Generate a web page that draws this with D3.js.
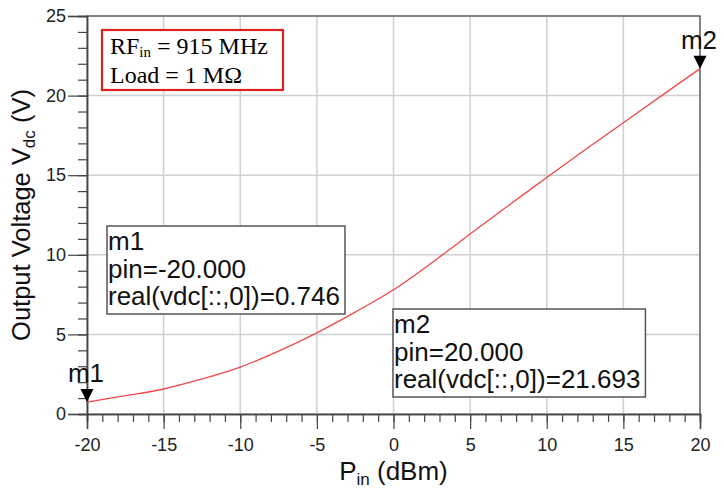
<!DOCTYPE html>
<html>
<head>
<meta charset="utf-8">
<script src="https://cdn.jsdelivr.net/npm/d3@7"></script>
<style>
  body { margin: 0; background: #fff; }
  text { font-family: "Liberation Sans", Arial, sans-serif; }
</style>
</head>
<body>
<div id="chart"></div>
<script>
// data
var pin_dbm = [-20, -17.5, -15, -12.5, -10, -7.5, -5, -2.5, 0, 2.5, 5, 7.5, 10, 12.5, 15, 17.5, 20];
var vdc_volts = [0.746, 1.15, 1.57, 2.2, 2.95, 3.95, 5.1, 6.4, 7.8, 9.5, 11.3, 13.1, 14.85, 16.6, 18.3, 20.0, 21.693];
var x_ticks = [-20, -15, -10, -5, 0, 5, 10, 15, 20];
var y_ticks = [0, 5, 10, 15, 20, 25];
var markers = [
    { name: "m1", pin: -20, vdc: 0.746 },
    { name: "m2", pin: 20, vdc: 21.693 }
];

var width = 724, height = 494;
var left = 87, right = 700, top_y = 16, bottom = 414;

var svg = d3.select("#chart").append("svg")
            .attr("width", width)
            .attr("height", height);

var x = d3.scaleLinear().domain([-20, 20]).range([left, right]);
var y = d3.scaleLinear().domain([0, 25]).range([bottom, top_y]);

// grid
svg.append("g").selectAll("line").data(x_ticks).enter().append("line")
   .attr("x1", d => x(d)).attr("x2", d => x(d))
   .attr("y1", top_y).attr("y2", bottom)
   .attr("stroke", "#d0d0d0").attr("stroke-width", 1.5);
svg.append("g").selectAll("line").data(y_ticks).enter().append("line")
   .attr("x1", left).attr("x2", right)
   .attr("y1", d => y(d)).attr("y2", d => y(d))
   .attr("stroke", "#d0d0d0").attr("stroke-width", 1.5);

// frame top/right
svg.append("path")
   .attr("d", "M" + left + "," + top_y + "H" + right + "V" + bottom)
   .attr("fill", "none").attr("stroke", "#666").attr("stroke-width", 1.5);

// axes
var x_axis = svg.append("g").attr("transform", "translate(0," + bottom + ")");
x_axis.call(d3.axisBottom(x).ticks(40).tickSize(8).tickFormat(""));
x_axis.append("g").call(d3.axisBottom(x).tickValues(x_ticks).tickSize(15).tickPadding(9)
                         .tickFormat(d => String(d)));
x_axis.selectAll("path").attr("stroke", "#444").attr("stroke-width", 1.5);
x_axis.selectAll("line").attr("stroke", "#444").attr("stroke-width", 1.2);
x_axis.selectAll("text").attr("font-size", 18).attr("fill", "#222");

var y_axis = svg.append("g").attr("transform", "translate(" + left + ",0)");
y_axis.call(d3.axisLeft(y).ticks(25).tickSize(9).tickFormat(""));
y_axis.append("g").call(d3.axisLeft(y).tickValues(y_ticks).tickSize(19).tickPadding(2)
                         .tickFormat(d => String(d)));
y_axis.selectAll("path").attr("stroke", "#444").attr("stroke-width", 1.5);
y_axis.selectAll("line").attr("stroke", "#444").attr("stroke-width", 1.2);
y_axis.selectAll("text").attr("font-size", 18).attr("fill", "#222");

// curve
var line = d3.line().curve(d3.curveMonotoneX)
             .x((d, i) => x(pin_dbm[i])).y(d => y(d));
svg.append("path").datum(vdc_volts)
   .attr("d", line)
   .attr("fill", "none").attr("stroke", "#f04848").attr("stroke-width", 1.3);

// marker triangles
var mk = svg.append("g").selectAll("g").data(markers).enter().append("g");
mk.append("path")
  .attr("d", d => {
      var px = x(d.pin), py = y(d.vdc);
      return "M" + px + "," + py + "L" + (px - 6.5) + "," + (py - 13) + "L" + (px + 6.5) + "," + (py - 13) + "Z";
  })
  .attr("fill", "#000");
mk.append("text")
  .attr("x", d => x(d.pin) - 1)
  .attr("y", d => y(d.vdc) - 20)
  .attr("text-anchor", "middle")
  .attr("font-size", 26)
  .attr("fill", "#111")
  .text(d => d.name);

// marker readout boxes
var boxes = [
    { m: markers[0], bx: 107, by: 226 },
    { m: markers[1], bx: 393, by: 309 }
];
boxes.forEach(function (b) {
    var lines = [b.m.name, "pin=" + b.m.pin.toFixed(3), "real(vdc[::,0])=" + b.m.vdc.toFixed(3)];
    var g = svg.append("g");
    var t = g.append("text").attr("font-size", 26).attr("fill", "#111");
    lines.forEach(function (s, i) {
        t.append("tspan").attr("x", b.bx + 1).attr("y", b.by + 24 + i * 27.5).text(s);
    });
    var bb = t.node().getBBox();
    g.insert("rect", "text")
     .attr("x", b.bx).attr("y", b.by)
     .attr("width", bb.width + 6).attr("height", 88)
     .attr("fill", "#fff").attr("stroke", "#555").attr("stroke-width", 1.5);
});

// RF info box
var serif = "'Liberation Serif', 'Times New Roman', serif";
var info = svg.append("g");
info.append("rect")
    .attr("x", 102).attr("y", 30).attr("width", 181).attr("height", 60)
    .attr("fill", "#fff").attr("stroke", "#e02020").attr("stroke-width", 2.2);
var rf = info.append("text").attr("x", 110).attr("y", 54)
             .attr("font-size", 24).style("font-family", serif);
rf.append("tspan").text("RF");
rf.append("tspan").attr("font-size", 15).attr("dy", 3).text("in");
rf.append("tspan").attr("dy", -3).text(" = 915 MHz");
info.append("text").attr("x", 110).attr("y", 83)
    .attr("font-size", 24).style("font-family", serif)
    .text("Load = 1 M\u03A9");

// axis labels
var xl = svg.append("text").attr("x", x(0)).attr("y", 480)
            .attr("text-anchor", "middle").attr("font-size", 26).attr("fill", "#111");
xl.append("tspan").text("P");
xl.append("tspan").attr("font-size", 17).attr("dy", 5).text("in");
xl.append("tspan").attr("dy", -5).text(" (dBm)");

var yl = svg.append("text")
            .attr("transform", "translate(30," + y(12.5) + ") rotate(-90)")
            .attr("text-anchor", "middle").attr("font-size", 25.5).attr("fill", "#111");
yl.append("tspan").text("Output Voltage V");
yl.append("tspan").attr("font-size", 17).attr("dy", 5).text("dc");
yl.append("tspan").attr("dy", -5).text(" (V)");
</script>
</body>
</html>
